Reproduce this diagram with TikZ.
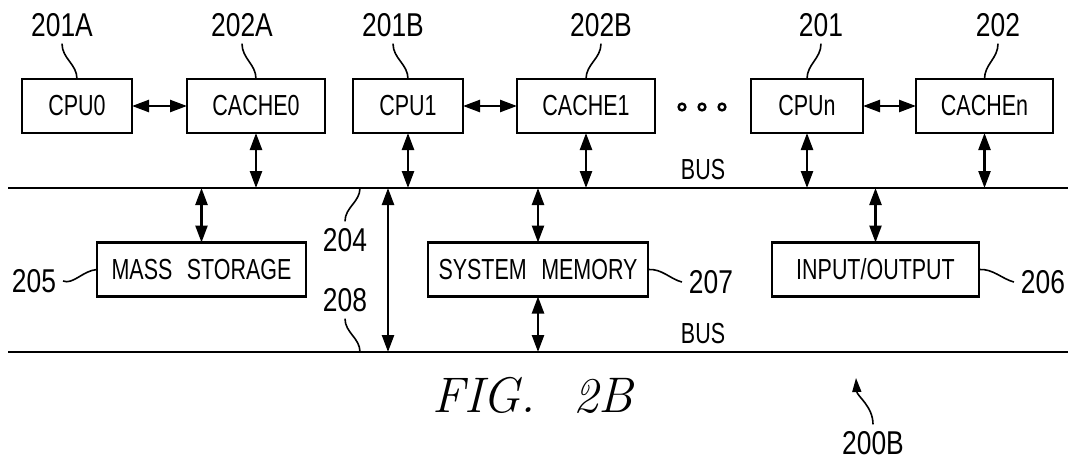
\documentclass[tikz,border=0pt]{standalone}
\usepackage{fontspec}
\newfontfamily\boxfont[FakeStretch=0.74]{Liberation Sans}
\newfontfamily\numfont[FakeStretch=0.8]{Liberation Sans}
\usetikzlibrary{arrows.meta}

\begin{document}
\begin{tikzpicture}[x=1pt,y=-1pt,
  >={Triangle[length=17pt,width=12pt]},
  unit/.style={draw, line width=2.6pt, minimum height=54pt, inner sep=0pt,
    outer sep=0pt, font=\boxfont\fontsize{29}{30}\selectfont},
  buslabel/.style={inner sep=0pt, font=\boxfont\fontsize{29}{30}\selectfont},
  numlbl/.style={inner sep=0pt, outer sep=7pt, font=\numfont\fontsize{33}{34}\selectfont},
  link/.style={<->, line width=2.4pt},
  busline/.style={line width=2.6pt},
  leader/.style={line width=1.6pt},
  dot/.style={line width=2.4pt}]

\useasboundingbox (0,0) rectangle (1074,461);

% processors and caches
\node[unit, minimum width=110pt] (cpu0)   at (77,106)    {CPU0};
\node[unit, minimum width=138pt] (cache0) at (256,106)   {CACHE0};
\node[unit, minimum width=110pt] (cpu1)   at (408,106)   {CPU1};
\node[unit, minimum width=138pt] (cache1) at (586,106)   {CACHE1};
\node[unit, minimum width=112pt] (cpun)   at (807,106)   {CPUn};
\node[unit, minimum width=137pt] (cachen) at (984.5,106) {CACHEn};

% ellipsis between the groups
\draw[dot] (682,107) circle (3.4pt);
\draw[dot] (702,107) circle (3.4pt);
\draw[dot] (722,107) circle (3.4pt);

% peripheral units
\node[unit, minimum width=209pt] (mass)   at (201.5,269.5) {MASS\hspace{0.5em}STORAGE};
\node[unit, minimum width=220pt] (sysmem) at (538,269.5)   {SYSTEM\hspace{0.5em}MEMORY};
\node[unit, minimum width=207pt] (io)     at (875.5,269.5) {INPUT/OUTPUT};

% buses
\coordinate (b1w) at (8,188);
\coordinate (b1e) at (1068,188);
\coordinate (b2w) at (8,352);
\coordinate (b2e) at (1068,352);
\draw[busline] (b1w) -- (b1e);
\draw[busline] (b2w) -- (b2e);
\node[buslabel] (bus1) at (703,170) {BUS};
\node[buslabel] (bus2) at (703,334) {BUS};

% processor <-> cache links
\draw[link] (cpu0.east) -- (cache0.west);
\draw[link] (cpu1.east) -- (cache1.west);
\draw[link] (cpun.east) -- (cachen.west);

% connections to the upper bus
\draw[link] (cache0.south) -- (cache0.south |- b1w);
\draw[link] (cpu1.south)   -- (cpu1.south |- b1w);
\draw[link] (cache1.south) -- (cache1.south |- b1w);
\draw[link] (cpun.south)   -- (cpun.south |- b1w);
\draw[link] (cachen.south) -- (cachen.south |- b1w);
\draw[link] (mass.north)   -- (mass.north |- b1w);
\draw[link] (sysmem.north) -- (sysmem.north |- b1w);
\draw[link] (io.north)     -- (io.north |- b1w);

% connections to the lower bus
\draw[link] (sysmem.south) -- (sysmem.south |- b2w);
\coordinate (bridge) at (388,188);
\draw[link] (bridge) -- (bridge |- b2w);

% reference numerals
\node[numlbl] (l201a) at (62,25)  {201A};
\node[numlbl] (l202a) at (242,25) {202A};
\node[numlbl] (l201b) at (393,25) {201B};
\node[numlbl] (l202b) at (601,25) {202B};
\node[numlbl] (l201)  at (821,25) {201};
\node[numlbl] (l202)  at (998,25) {202};
\node[numlbl] (l205)  at (34,281)   {205};
\node[numlbl] (l207)  at (711,282)  {207};
\node[numlbl] (l206)  at (1043,282) {206};
\node[numlbl] (l204)  at (345,240)  {204};
\node[numlbl] (l208)  at (345,300)  {208};
\node[numlbl] (l200)  at (873,443)  {200B};

% leader lines
\foreach \l/\b in {l201a/cpu0, l202a/cache0, l201b/cpu1, l202b/cache1, l201/cpun, l202/cachen}
  \draw[leader] (\l.south) .. controls +(0,15) and +(0,-15) .. (\b.north);
\draw[leader] (l205.east) .. controls +(10,4) and +(-14,1) .. (mass.west);
\draw[leader] (sysmem.east) .. controls +(14,-1) and +(-12,-3) .. (l207.west);
\draw[leader] (io.east) .. controls +(14,-1) and +(-12,-3) .. (l206.west);
\coordinate (t204) at (360,188);
\coordinate (t208) at (360,352);
\draw[leader] (l204.north) .. controls +(0,-14) and +(0,14) .. (t204);
\draw[leader] (l208.south) .. controls +(0,14) and +(0,-14) .. (t208);
\coordinate (tip200) at (856,378);
\draw[leader, -{Triangle[length=14pt,width=9pt]}] (l200.north) .. controls +(0,-18) and +(1,18) .. (tip200);

% figure caption
\node[anchor=base west, inner sep=0pt, font=\fontsize{50}{60}\selectfont\itshape] (fig) at (432,412) {FIG.\hspace{38pt}2B};
\end{tikzpicture}
\end{document}
